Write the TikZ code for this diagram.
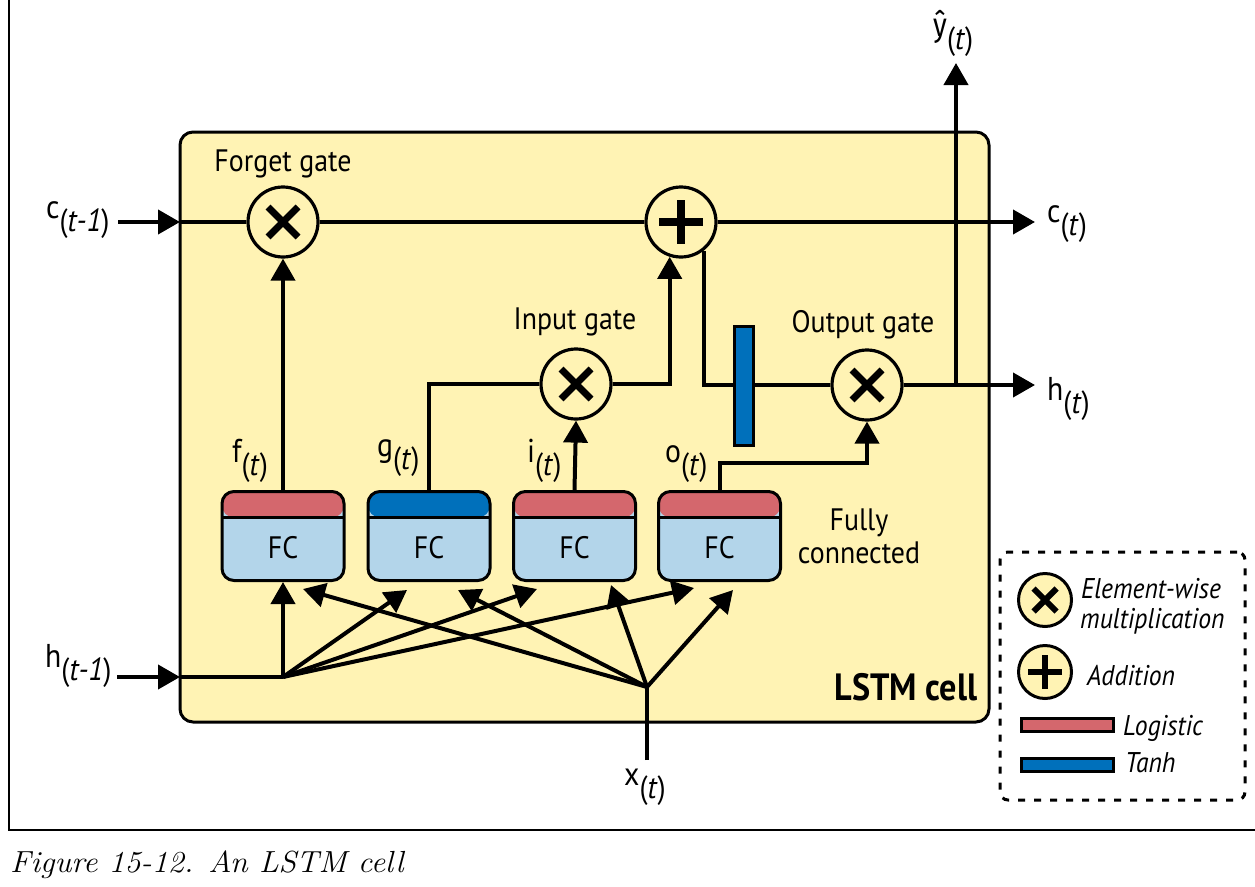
\documentclass[tikz,border=0pt]{standalone}
\usepackage{fontspec}
\setmainfont{PT Sans}[FakeStretch=0.9]
\newfontfamily\capfont{Latin Modern Roman}[FakeStretch=1.05]
\newfontfamily\yfont{Fira Sans}[FakeStretch=0.85]
\usetikzlibrary{arrows.meta,calc}
\definecolor{cellY}{HTML}{FFF3B4}
\definecolor{logR}{HTML}{D4676D}
\definecolor{tanB}{HTML}{0070BB}
\definecolor{fcB}{HTML}{B3D5EA}
\newcommand\sbt[1]{\raisebox{-0.42em}{\fontsize{32}{32}\selectfont(\textit{#1})}}
\newcommand\drawcross[3]{\draw[line width=#3pt] ($(#1)+(-#2,-#2)$) -- ($(#1)+(#2,#2)$) ($(#1)+(-#2,#2)$) -- ($(#1)+(#2,-#2)$);}
\newcommand\drawplusm[3]{\draw[line width=#3pt] ($(#1)+(-#2,0)$) -- ($(#1)+(#2,0)$) ($(#1)+(0,-#2)$) -- ($(#1)+(0,#2)$);}
\begin{document}
\begin{tikzpicture}[x=1pt,y=-1pt,
  conn/.style={line width=4pt},
  arr/.style={conn,-{Triangle[length=22pt,width=24pt]}},
  op/.style={circle,draw,line width=3.2pt,fill=cellY,minimum size=70pt,inner sep=0pt},
  legop/.style={circle,draw,line width=3pt,fill=cellY,minimum size=53pt,inner sep=0pt},
  fcbox/.style={rectangle,rounded corners=12pt,draw,line width=3pt,fill=fcB,
    minimum width=122pt,minimum height=89pt,inner sep=0pt,
    path picture={\fill[#1] (path picture bounding box.north west) rectangle ([yshift=-26pt]path picture bounding box.north east);
      \draw[line width=3pt] ([yshift=-26pt]path picture bounding box.north west) -- ([yshift=-26pt]path picture bounding box.north east);}},
  bar/.style={rectangle,draw,line width=3pt,fill=#1,inner sep=0pt},
  lbl/.style={font=\fontsize{31}{34}\selectfont,inner sep=0pt},
  vlbl/.style={font=\fontsize{33}{36}\selectfont,inner sep=0pt,anchor=base west},
  leglbl/.style={font=\fontsize{28.5}{31}\selectfont\itshape,inner sep=0pt,anchor=base west},
]
\useasboundingbox (0,0) rectangle (1255,886);
\fill[white] (0,0) rectangle (1255,886);
\draw[line width=1.5pt] (9,0) -- (9,830) -- (1255,830);
\node[inner sep=0pt,anchor=base west,font=\capfont\itshape\fontsize{30.5}{32}\selectfont] (cap) at (10,872) {Figure 15-12. An LSTM cell};

% LSTM cell
\node[draw,line width=3pt,fill=cellY,rounded corners=13pt,minimum width=809pt,minimum height=590pt,inner sep=0pt] (cell) at (584.5,427) {};

% coordinates
\coordinate (cinS) at (118,222);
\coordinate (cinE) at (180,222);
\coordinate (coutE) at (1035,222);
\coordinate (hinS) at (117,677);
\coordinate (hinE) at (180,677);
\coordinate (H) at (283,677);
\coordinate (X) at (647,687);
\coordinate (xS) at (647,760);
\coordinate (hoE) at (1035,385);
\coordinate (yJ) at (956,385);
\coordinate (yE) at (956,63);
\coordinate (tHg) at (407,590);
\coordinate (tHi) at (537,589);
\coordinate (tHo) at (694,588);
\coordinate (tXf) at (303,589);
\coordinate (tXg) at (458,590);
\coordinate (tXi) at (611,585);
\coordinate (tXo) at (733,590);

% operators
\node[op] (fg) at (283,222) {};
\node[op] (pl) at (681,222) {};
\node[op] (ig) at (576,384) {};
\node[op] (og) at (867,385) {};

% FC boxes
\node[fcbox=logR] (bf) at (283,536) {};
\node[fcbox=tanB] (bg) at (429,536) {};
\node[fcbox=logR] (bi) at (574.5,536) {};
\node[fcbox=logR] (bo) at (719.5,536) {};
\node[lbl] (tbf) at (283,548) {FC};
\node[lbl] (tbg) at (429,548) {FC};
\node[lbl] (tbi) at (574.5,548) {FC};
\node[lbl] (tbo) at (719.5,548) {FC};

% cell state line
\draw[arr] (cinS) -- (cinE);
\draw[conn] (cinE) -- (fg.west);
\draw[conn] (fg.east) -- (pl.west);
\draw[arr] (pl.east) -- (coutE);

% gates
\draw[arr] (bf.north) -- (fg.south);
\draw[conn] (bg.north) |- (ig.west);
\draw[arr] (bi.north) -- (ig.south);
\draw[arr] (ig.east) -| (pl.-108);
\draw[conn] (pl.-52) |- (og.west);
\node[bar=tanB,minimum width=19pt,minimum height=119pt] (th) at (744,386) {};
\draw[arr] (bo.north) -- ++(0,-27) -| (og.south);
\draw[arr] (og.east) -- (hoE);
\draw[arr] (yJ) -- (yE);

% inputs
\draw[arr] (hinS) -- (hinE);
\draw[conn] (hinE) -- (H);
\draw[conn] (xS) -- (X);
\draw[arr] (H) -- (bf.south);
\draw[arr] (H) -- (tHg);
\draw[arr] (H) -- (tHi);
\draw[arr] (H) -- (tHo);
\draw[arr] (X) -- (tXf);
\draw[arr] (X) -- (tXg);
\draw[arr] (X) -- (tXi);
\draw[arr] (X) -- (tXo);

% symbols
\drawcross{fg}{15}{7}
\drawcross{ig}{15}{7}
\drawcross{og}{15}{7}
\drawplusm{pl}{22}{8}

% labels
\node[lbl,anchor=base] (tforget) at (283,171) {Forget gate};
\node[lbl,anchor=base] (tinput) at (575,329) {Input gate};
\node[lbl,anchor=base] (toutput) at (863,332) {Output gate};
\node[lbl,anchor=base] (tfully) at (859,530) {Fully};
\node[lbl,anchor=base] (tconn) at (859,563) {connected};
\node[lbl,anchor=base,font=\fontsize{38}{40}\selectfont\bfseries] (tcell) at (906,700) {LSTM cell};

\node[vlbl] (lcin) at (46,218) {c\sbt{t-1}};
\node[vlbl] (lhin) at (45,667) {h\sbt{t-1}};
\node[vlbl] (lcout) at (1047,222) {c\sbt{t}};
\node[vlbl] (lhout) at (1047,400) {h\sbt{t}};
\node[vlbl] (ly) at (933,36) {{\yfont ŷ}\sbt{t}};
\node[vlbl] (lx) at (624,785) {x\sbt{t}};
\node[vlbl] (lf) at (232,462) {f\sbt{t}};
\node[vlbl] (lg) at (377,456) {g\sbt{t}};
\node[vlbl] (li) at (527,462) {i\sbt{t}};
\node[vlbl] (lo) at (665,462) {o\sbt{t}};

% legend
\node[draw,line width=3pt,dash pattern=on 7pt off 9pt,rounded corners=8pt,minimum width=245pt,minimum height=248pt,inner sep=0pt] (leg) at (1122.5,676) {};
\node[legop] (lmul) at (1045,600) {};
\drawcross{lmul}{11.5}{6}
\node[legop] (ladd) at (1045,672) {};
\drawplusm{ladd}{17}{6}
\node[bar=logR,minimum width=92pt,minimum height=13pt] (llog) at (1067.5,725) {};
\node[bar=tanB,minimum width=92pt,minimum height=13pt] (ltanh) at (1067.5,764.5) {};
\node[leglbl] (tmul1) at (1081,598) {Element-wise};
\node[leglbl] (tmul2) at (1080,628) {multiplication};
\node[leglbl] (tadd) at (1087,685) {Addition};
\node[leglbl] (tlog) at (1123,735) {Logistic};
\node[leglbl] (ttanh) at (1125,772) {Tanh};
\end{tikzpicture}
\end{document}
